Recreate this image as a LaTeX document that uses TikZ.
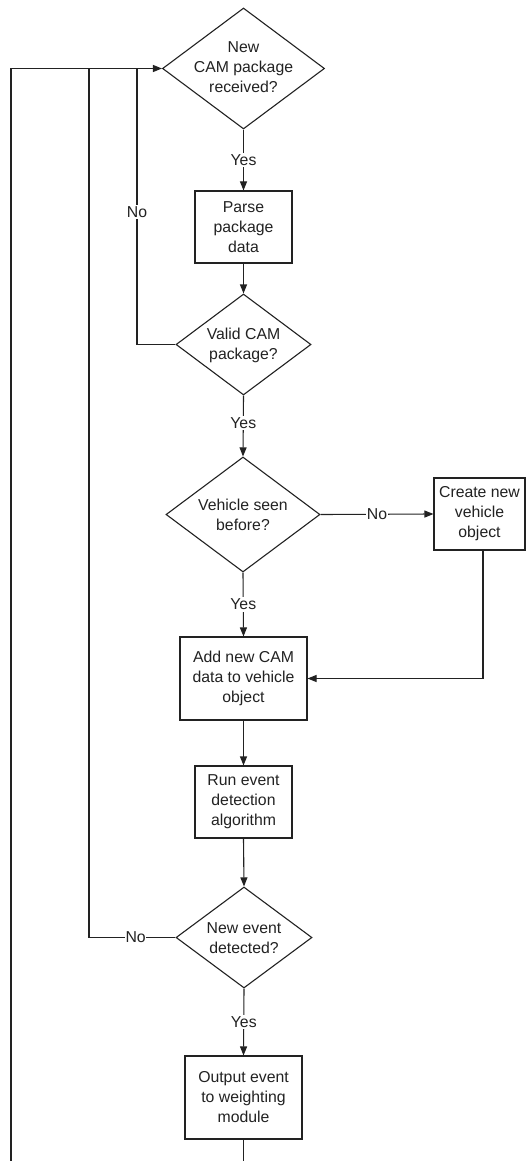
\documentclass[tikz,border=0pt]{standalone}
\usepackage{fontspec}
\setmainfont{Liberation Sans}
\usetikzlibrary{shapes.geometric,arrows.meta}
\definecolor{ln}{HTML}{222222}
\begin{document}
\begin{tikzpicture}[x=1pt,y=-1pt,
  every node/.style={font=\fontsize{15.8}{20}\selectfont, text=ln, align=center},
  boxst/.style={draw=ln, line width=1.1pt, rectangle, inner sep=0pt},
  diast/.style={draw=ln, line width=1.1pt, diamond, inner sep=0pt},
  conn/.style={draw=ln, line width=1.1pt},
  arr/.style={conn, -{Triangle[length=9pt,width=7pt]}},
  lbl/.style={fill=white, inner sep=1.5pt}]
\useasboundingbox (0,0) rectangle (526,1161);
\fill[white] (0,0) rectangle (526,1161);

\node[diast, minimum width=162pt, minimum height=121pt] (d1) at (243.5,68.5) {};
\node at (243.5,67) {New\\CAM package\\received?};
\node[boxst, minimum width=97pt, minimum height=72pt] (p1) at (243.5,227) {Parse\\package\\data};
\node[diast, minimum width=135pt, minimum height=101pt] (d2) at (243.5,344.5) {};
\node at (243.5,345) {Valid CAM\\package?};
\node[diast, minimum width=154pt, minimum height=115pt] (d3) at (243,514.5) {};
\node at (243,514.5) {Vehicle seen\\before?};
\node[boxst, minimum width=91pt, minimum height=72pt] (c1) at (479.5,514) {Create new\\vehicle\\object};
\node[boxst, minimum width=127pt, minimum height=83pt] (a1) at (243.5,678.5) {Add new CAM\\data to vehicle\\object};
\node[boxst, minimum width=97pt, minimum height=72pt] (r1) at (243.5,802) {Run event\\detection\\algorithm};
\node[diast, minimum width=136pt, minimum height=101pt] (d4) at (244,937.5) {};
\node at (244,938) {New event\\detected?};
\node[boxst, minimum width=117pt, minimum height=83pt] (o1) at (243.5,1097.5) {Output event\\to weighting\\module};

\coordinate (j1) at (137,68.5);
\coordinate (j2) at (89,68.5);
\coordinate (bl) at (11,1161);
\coordinate (ob) at (243.5,1161);

\draw[arr] (bl) |- (d1.west);
\draw[arr] (d1.south) -- node[lbl] {Yes} (p1.north);
\draw[arr] (p1.south) -- (d2.north);
\draw[conn] (d2.west) -| node[lbl, pos=0.74] {No} (j1);
\draw[arr] (d2.south) -- node[lbl, pos=0.45] {Yes} (d3.north);
\draw[arr] (d3.east) -- node[lbl, inner sep=0.5pt] {No} (c1.west);
\draw[arr] (d3.south) -- node[lbl] {Yes} (a1.north);
\draw[arr] (c1.south -| 483,0) |- (a1.east);
\draw[arr] (a1.south) -- (r1.north);
\draw[arr] (r1.south) -- (d4.north);
\draw[conn] (d4.west) -| node[lbl, pos=0.23, inner sep=0.5pt] {No} (j2);
\draw[arr] (d4.south) -- node[lbl] {Yes} (o1.north);
\draw[conn] (o1.south) -- (ob);
\end{tikzpicture}
\end{document}
